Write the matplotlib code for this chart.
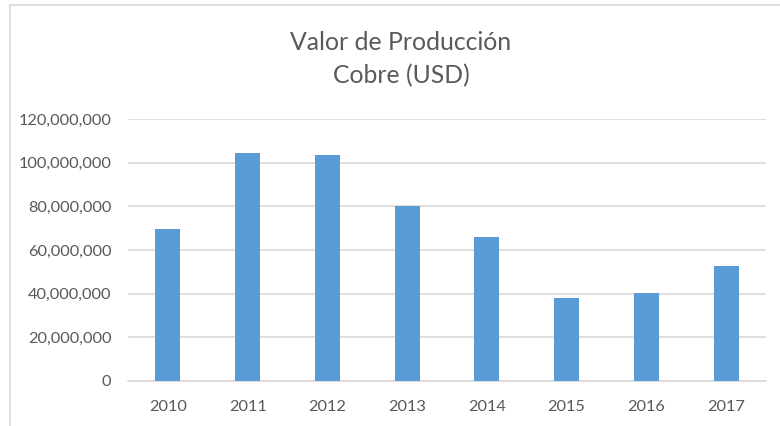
import matplotlib
matplotlib.use("Agg")
import matplotlib.pyplot as plt
from matplotlib.lines import Line2D
from matplotlib.ticker import FuncFormatter

years = ["2010", "2011", "2012", "2013", "2014", "2015", "2016", "2017"]
values = [69.5e6, 104.6e6, 103.7e6, 80.2e6, 66.1e6, 38.2e6, 40.2e6, 52.5e6]
y_ticks = [0, 20e6, 40e6, 60e6, 80e6, 100e6, 120e6]
title_text = "Valor de Producción\nCobre (USD)"

plt.rcParams['font.family'] = ['Lato', 'DejaVu Sans']
W, H = 780, 426
fig = plt.figure(figsize=(W / 100, H / 100), dpi=100)
ax = fig.add_axes([128 / W, 1 - 381 / H, (766 - 128) / W, (381 - 119) / H])

x = range(len(years))
ax.bar(x, values, width=0.315, color="#5b9bd5", zorder=3)
ax.set_xlim(-0.5, len(years) - 0.5)
ax.set_ylim(0, 120e6)
ax.set_yticks(y_ticks)
ax.yaxis.set_major_formatter(FuncFormatter(lambda v, p: f"{int(round(v)):,}"))
ax.set_xticks(list(x))
ax.set_xticklabels(years)
ax.grid(axis="y", color="#d9d9d9", linewidth=1.2, zorder=0)
for s in ["top", "right", "left"]:
    ax.spines[s].set_visible(False)
ax.spines["bottom"].set_color("#d9d9d9")
ax.spines["bottom"].set_linewidth(1.2)
ax.tick_params(axis="both", length=0, colors="#595959", labelsize=11.8)
ax.tick_params(axis="y", pad=12)
ax.tick_params(axis="x", pad=14)

fig.text(401 / W, 1 - 59 / H, title_text, ha="center", va="center",
         fontsize=17.8, color="#595959", linespacing=1.5)

# chart border
fig.add_artist(Line2D([10 / W, 1], [1 - 5 / H, 1 - 5 / H], color="#d9d9d9", linewidth=1.2))
fig.add_artist(Line2D([10 / W, 10 / W], [0, 1 - 5 / H], color="#d9d9d9", linewidth=1.2))

fig.savefig("out.png", dpi=100)
